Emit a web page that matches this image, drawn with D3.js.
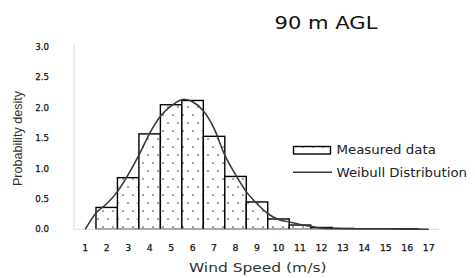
<!DOCTYPE html>
<meta charset="utf-8">
<script src="https://d3js.org/d3.v7.min.js"></script>
<style>
  body { margin: 0; background: #fff; }
</style>
<div id="my_dataviz"></div>
<script>

// wind speed classes (m/s) and measured probability density
var speeds = ["1","2","3","4","5","6","7","8","9","10","11","12","13","14","15","16","17"];
var measured = [0, 0.36, 0.85, 1.57, 2.05, 2.12, 1.53, 0.87, 0.45, 0.17, 0.07, 0.03, 0.015, 0.01, 0.01, 0.01, 0];

// Weibull fit
var weibullX = [1, 1.5, 2, 2.5, 3, 3.5, 4, 4.5, 5, 5.6, 6, 6.5, 7, 7.5, 8, 8.5, 9, 9.5, 10, 10.5, 11, 11.5, 12, 13, 14, 15, 16, 17];
var weibullY = [0, 0.27, 0.42, 0.62, 0.9, 1.22, 1.58, 1.86, 2.03, 2.14, 2.1, 1.95, 1.66, 1.22, 0.9, 0.62, 0.42, 0.26, 0.16, 0.12, 0.08, 0.05, 0.02, 0.01, 0.006, 0.004, 0.003, 0.002];

var yTicks = [0, 0.5, 1, 1.5, 2, 2.5, 3];

var W = 475, H = 278;

var svg = d3.select("#my_dataviz")
  .append("svg")
    .attr("width", W)
    .attr("height", H);

// dotted fill like the excel pattern
var pat = svg.append("defs").append("pattern")
    .attr("id", "dots")
    .attr("patternUnits", "userSpaceOnUse")
    .attr("width", 10)
    .attr("height", 16);
pat.append("rect").attr("width", 10).attr("height", 16).attr("fill", "#fff");
pat.append("circle").attr("cx", 3).attr("cy", 3).attr("r", 0.7).attr("fill", "#000");
pat.append("circle").attr("cx", 8).attr("cy", 11).attr("r", 0.7).attr("fill", "#000");

var x = d3.scaleBand()
  .domain(speeds)
  .range([74.5, 439.5])
  .padding(0);

// continuous scale for the curve, category centres
var xc = d3.scaleLinear()
  .domain([1, 17])
  .range([x("1") + x.bandwidth() / 2, x("17") + x.bandwidth() / 2]);

var y = d3.scaleLinear()
  .domain([0, 3])
  .range([229.3, 47]);

// axis lines
svg.append("line")
  .attr("x1", 74).attr("x2", 74)
  .attr("y1", y(3) - 2).attr("y2", y(0))
  .attr("stroke", "#d9d9d9").attr("stroke-width", 1);

// y tick labels
svg.append("g")
  .selectAll("text")
  .data(yTicks)
  .enter()
  .append("text")
    .attr("x", 49)
    .attr("y", function(d) { return y(d) + 3; })
    .attr("text-anchor", "end")
    .style("font-family", "DejaVu Sans")
    .style("font-size", "8.6px")
    .style("fill", "#111")
    .style("stroke", "#111")
    .style("stroke-width", 0.25)
    .text(function(d) { return d.toFixed(1); });

// bars
svg.append("g")
  .selectAll("rect")
  .data(speeds)
  .enter()
  .append("rect")
    .attr("x", function(d) { return x(d); })
    .attr("y", function(d, i) { return y(measured[i]); })
    .attr("width", x.bandwidth())
    .attr("height", function(d, i) { return y(0) - y(measured[i]); })
    .attr("display", function(d, i) { return measured[i] > 0 ? null : "none"; })
    .attr("fill", "url(#dots)")
    .attr("stroke", "#000")
    .attr("stroke-width", 1.4);

svg.append("line")
  .attr("x1", 74).attr("x2", 439)
  .attr("y1", y(0)).attr("y2", y(0))
  .attr("stroke", "#d9d9d9").attr("stroke-width", 1);

// weibull curve
var pts = weibullX.map(function(v, i) { return [v, weibullY[i]]; });
svg.append("path")
  .datum(pts)
  .attr("d", d3.line()
    .x(function(d) { return xc(d[0]); })
    .y(function(d) { return y(d[1]); })
    .curve(d3.curveMonotoneX))
  .attr("fill", "none")
  .attr("stroke", "#3a3a3a")
  .attr("stroke-width", 1.6);

// x tick labels
svg.append("g")
  .selectAll("text")
  .data(speeds)
  .enter()
  .append("text")
    .attr("x", function(d) { return x(d) + x.bandwidth() / 2; })
    .attr("y", 250.5)
    .attr("text-anchor", "middle")
    .style("font-family", "DejaVu Sans")
    .style("font-size", "9.3px")
    .style("fill", "#111")
    .style("stroke", "#111")
    .style("stroke-width", 0.25)
    .text(function(d) { return d; });

// stretched text helper
function label(txt, tx, ty, size, sx, anchor, color) {
  svg.append("text")
    .attr("transform", "translate(" + tx + "," + ty + ") scale(" + sx + ",1)")
    .attr("text-anchor", anchor)
    .style("font-family", "DejaVu Sans")
    .style("font-size", size + "px")
    .style("fill", color)
    .text(txt);
}

label("90 m AGL", 326, 29, 17, 1.24, "middle", "#111");
label("Wind Speed (m/s)", 257.7, 271.7, 12.9, 1.2, "middle", "#333");

// y title
svg.append("text")
  .attr("transform", "translate(22,138.5) rotate(-90)")
  .attr("text-anchor", "middle")
  .style("font-family", "Liberation Sans")
  .style("font-size", "12.6px")
  .style("fill", "#333")
  .text("Probability desity");

// legend
svg.append("rect")
  .attr("x", 293.5).attr("y", 146.5)
  .attr("width", 37).attr("height", 7.5)
  .attr("fill", "url(#dots)")
  .attr("stroke", "#000")
  .attr("stroke-width", 1.4);
label("Measured data", 336.5, 153.5, 11.4, 1.17, "start", "#222");

svg.append("line")
  .attr("x1", 293).attr("x2", 332)
  .attr("y1", 172.3).attr("y2", 172.3)
  .attr("stroke", "#3a3a3a").attr("stroke-width", 1.6);
label("Weibull Distribution", 336.5, 176.5, 11.4, 1.17, "start", "#222");

</script>
